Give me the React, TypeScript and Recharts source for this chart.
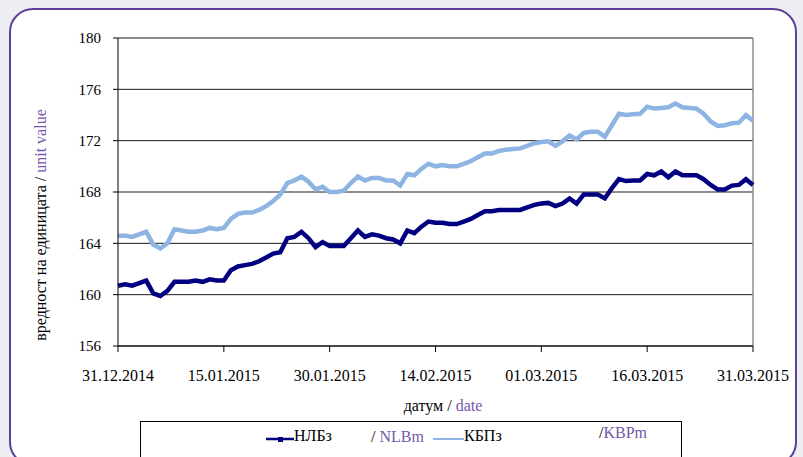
import {
  LineChart,
  Line,
  XAxis,
  YAxis,
  CartesianGrid,
  ReferenceLine,
} from "recharts";

// daily values, day 0 = 31.12.2014
const nlbValues = [
  160.7, 160.8, 160.7, 160.9, 161.1, 160.1, 159.9, 160.3, 161.0, 161.0, 161.0, 161.1, 161.0, 161.2, 161.1, 161.1, 161.9, 162.2,
  162.3, 162.4, 162.6, 162.9, 163.2, 163.3, 164.4, 164.5, 164.9, 164.4, 163.7, 164.1, 163.8, 163.8, 163.8, 164.4, 165.0, 164.5, 164.7,
  164.6, 164.4, 164.3, 164.0, 165.0, 164.8, 165.3, 165.7, 165.6, 165.6, 165.5, 165.5, 165.7, 165.9, 166.2, 166.5, 166.5, 166.6,
  166.6, 166.6, 166.6, 166.8, 167.0, 167.1, 167.15, 166.9, 167.1, 167.5, 167.1, 167.8, 167.8, 167.8, 167.5, 168.3, 169.0, 168.85, 168.9,
  168.9, 169.4, 169.3, 169.6, 169.15, 169.6, 169.3, 169.3, 169.3, 169.0, 168.55, 168.2, 168.2, 168.5, 168.55, 169.0, 168.55,
];

const kbpValues = [
  164.6, 164.6, 164.5, 164.7, 164.9, 163.9, 163.6, 164.0, 165.1, 165.0, 164.9, 164.9, 165.0, 165.2, 165.1, 165.2, 165.9, 166.3,
  166.4, 166.4, 166.6, 166.9, 167.3, 167.8, 168.7, 168.9, 169.2, 168.8, 168.2, 168.4, 168.0, 168.0, 168.1, 168.7, 169.2, 168.9, 169.1,
  169.1, 168.9, 168.9, 168.5, 169.4, 169.3, 169.8, 170.2, 170.0, 170.1, 170.0, 170.0, 170.2, 170.4, 170.7, 171.0, 171.0, 171.2,
  171.3, 171.35, 171.4, 171.6, 171.8, 171.9, 171.95, 171.6, 171.95, 172.4, 172.1, 172.6, 172.7, 172.7, 172.3, 173.2, 174.1, 174.0, 174.05,
  174.1, 174.65, 174.5, 174.55, 174.6, 174.9, 174.6, 174.55, 174.5, 174.1, 173.5, 173.15, 173.2, 173.35, 173.4, 174.0, 173.55,
];

const xTickDays = [0, 15, 30, 45, 60, 75, 90];
const xTickLabels = ["31.12.2014", "15.01.2015", "30.01.2015", "14.02.2015", "01.03.2015", "16.03.2015", "31.03.2015"];
const yTicks = [156, 160, 164, 168, 172, 176, 180];

const data = nlbValues.map((v, i) => ({ day: i, nlb: v, kbp: kbpValues[i] }));

const FONT = "Liberation Serif, Times New Roman, DejaVu Serif, serif";
const PURPLE = "#7557ab";

function YTitle() {
  return (
    <text
      x={42}
      y={225}
      transform="rotate(-90 42 225)"
      textAnchor="middle"
      dominantBaseline="middle"
      fontFamily={FONT}
      fontSize={16}
      fill="#000"
    >
      вредност на единицата /<tspan fill={PURPLE}> unit value</tspan>
    </text>
  );
}

function XTitle() {
  return (
    <text x={443} y={411} textAnchor="middle" fontFamily={FONT} fontSize={16} fill="#000">
      датум /<tspan fill={PURPLE}> date</tspan>
    </text>
  );
}

function LegendBox() {
  const txt = { fontFamily: FONT, fontSize: 16, position: "absolute" as const, whiteSpace: "nowrap" as const };
  return (
    <div
      style={{
        position: "absolute",
        left: 140,
        top: 421,
        width: 542,
        height: 50,
        border: "1px solid #000",
        boxSizing: "border-box",
        background: "#fff",
      }}
    >
      <svg style={{ position: "absolute", left: 125, top: 12 }} width={30} height={10}>
        <line x1={0} y1={5} x2={28} y2={5} stroke="#000080" strokeWidth={2.5} />
        <rect x={12} y={3} width={5} height={5} fill="#000080" />
      </svg>
      <span style={{ ...txt, left: 153, top: 5 }}>НЛБз</span>
      <span style={{ ...txt, left: 230, top: 6 }}>
        / <span style={{ color: PURPLE }}>NLBm</span>
      </span>
      <svg style={{ position: "absolute", left: 292, top: 12 }} width={32} height={10}>
        <line x1={0} y1={5} x2={31} y2={5} stroke="#8db4e2" strokeWidth={2} />
      </svg>
      <span style={{ ...txt, left: 323, top: 5 }}>КБПз</span>
      <span style={{ ...txt, left: 458, top: 2 }}>
        /<span style={{ color: PURPLE }}>KBPm</span>
      </span>
    </div>
  );
}

export default function App() {
  return (
    <div style={{ position: "absolute", left: 0, top: 0, width: 803, height: 457, background: "#eeedf4", overflow: "hidden", fontFamily: FONT }}>
      <div
        style={{
          position: "absolute",
          left: 9,
          top: 8,
          width: 788,
          height: 458,
          boxSizing: "border-box",
          border: "2.5px solid #5e3f9a",
          borderRadius: 24,
          background: "#fff",
        }}
      />
      <div style={{ position: "absolute", left: 0, top: 0 }}>
        <LineChart
          width={803}
          height={457}
          data={data}
          margin={{ top: 38, right: 50, left: 58, bottom: 51 }}
          style={{ fontFamily: FONT }}
        >
          <CartesianGrid horizontal vertical={false} stroke="#1a1a1a" strokeWidth={1} />
          <XAxis
            dataKey="day"
            type="number"
            domain={[0, 90]}
            ticks={xTickDays}
            tickFormatter={(d: number) => xTickLabels[xTickDays.indexOf(d)]}
            height={60}
            tickSize={6}
            tickMargin={18}
            stroke="#000"
            tick={{ fontSize: 16, fill: "#000", fontFamily: FONT }}
            label={<XTitle />}
            interval={0}
          />
          <YAxis
            type="number"
            domain={[156, 180]}
            ticks={yTicks}
            width={60}
            tickSize={5}
            tickMargin={12}
            stroke="#000"
            tick={{ fontSize: 15, fill: "#000", fontFamily: FONT }}
            label={<YTitle />}
            interval={0}
          />
          <ReferenceLine y={180} stroke="#8c8c8c" strokeWidth={1.5} />
          <ReferenceLine x={90} stroke="#8c8c8c" strokeWidth={1.5} />
          <Line type="linear" dataKey="kbp" stroke="#8db4e2" strokeWidth={4.5} dot={false} isAnimationActive={false} />
          <Line type="linear" dataKey="nlb" stroke="#000080" strokeWidth={4.5} dot={false} isAnimationActive={false} />
        </LineChart>
      </div>
      <LegendBox />
    </div>
  );
}
